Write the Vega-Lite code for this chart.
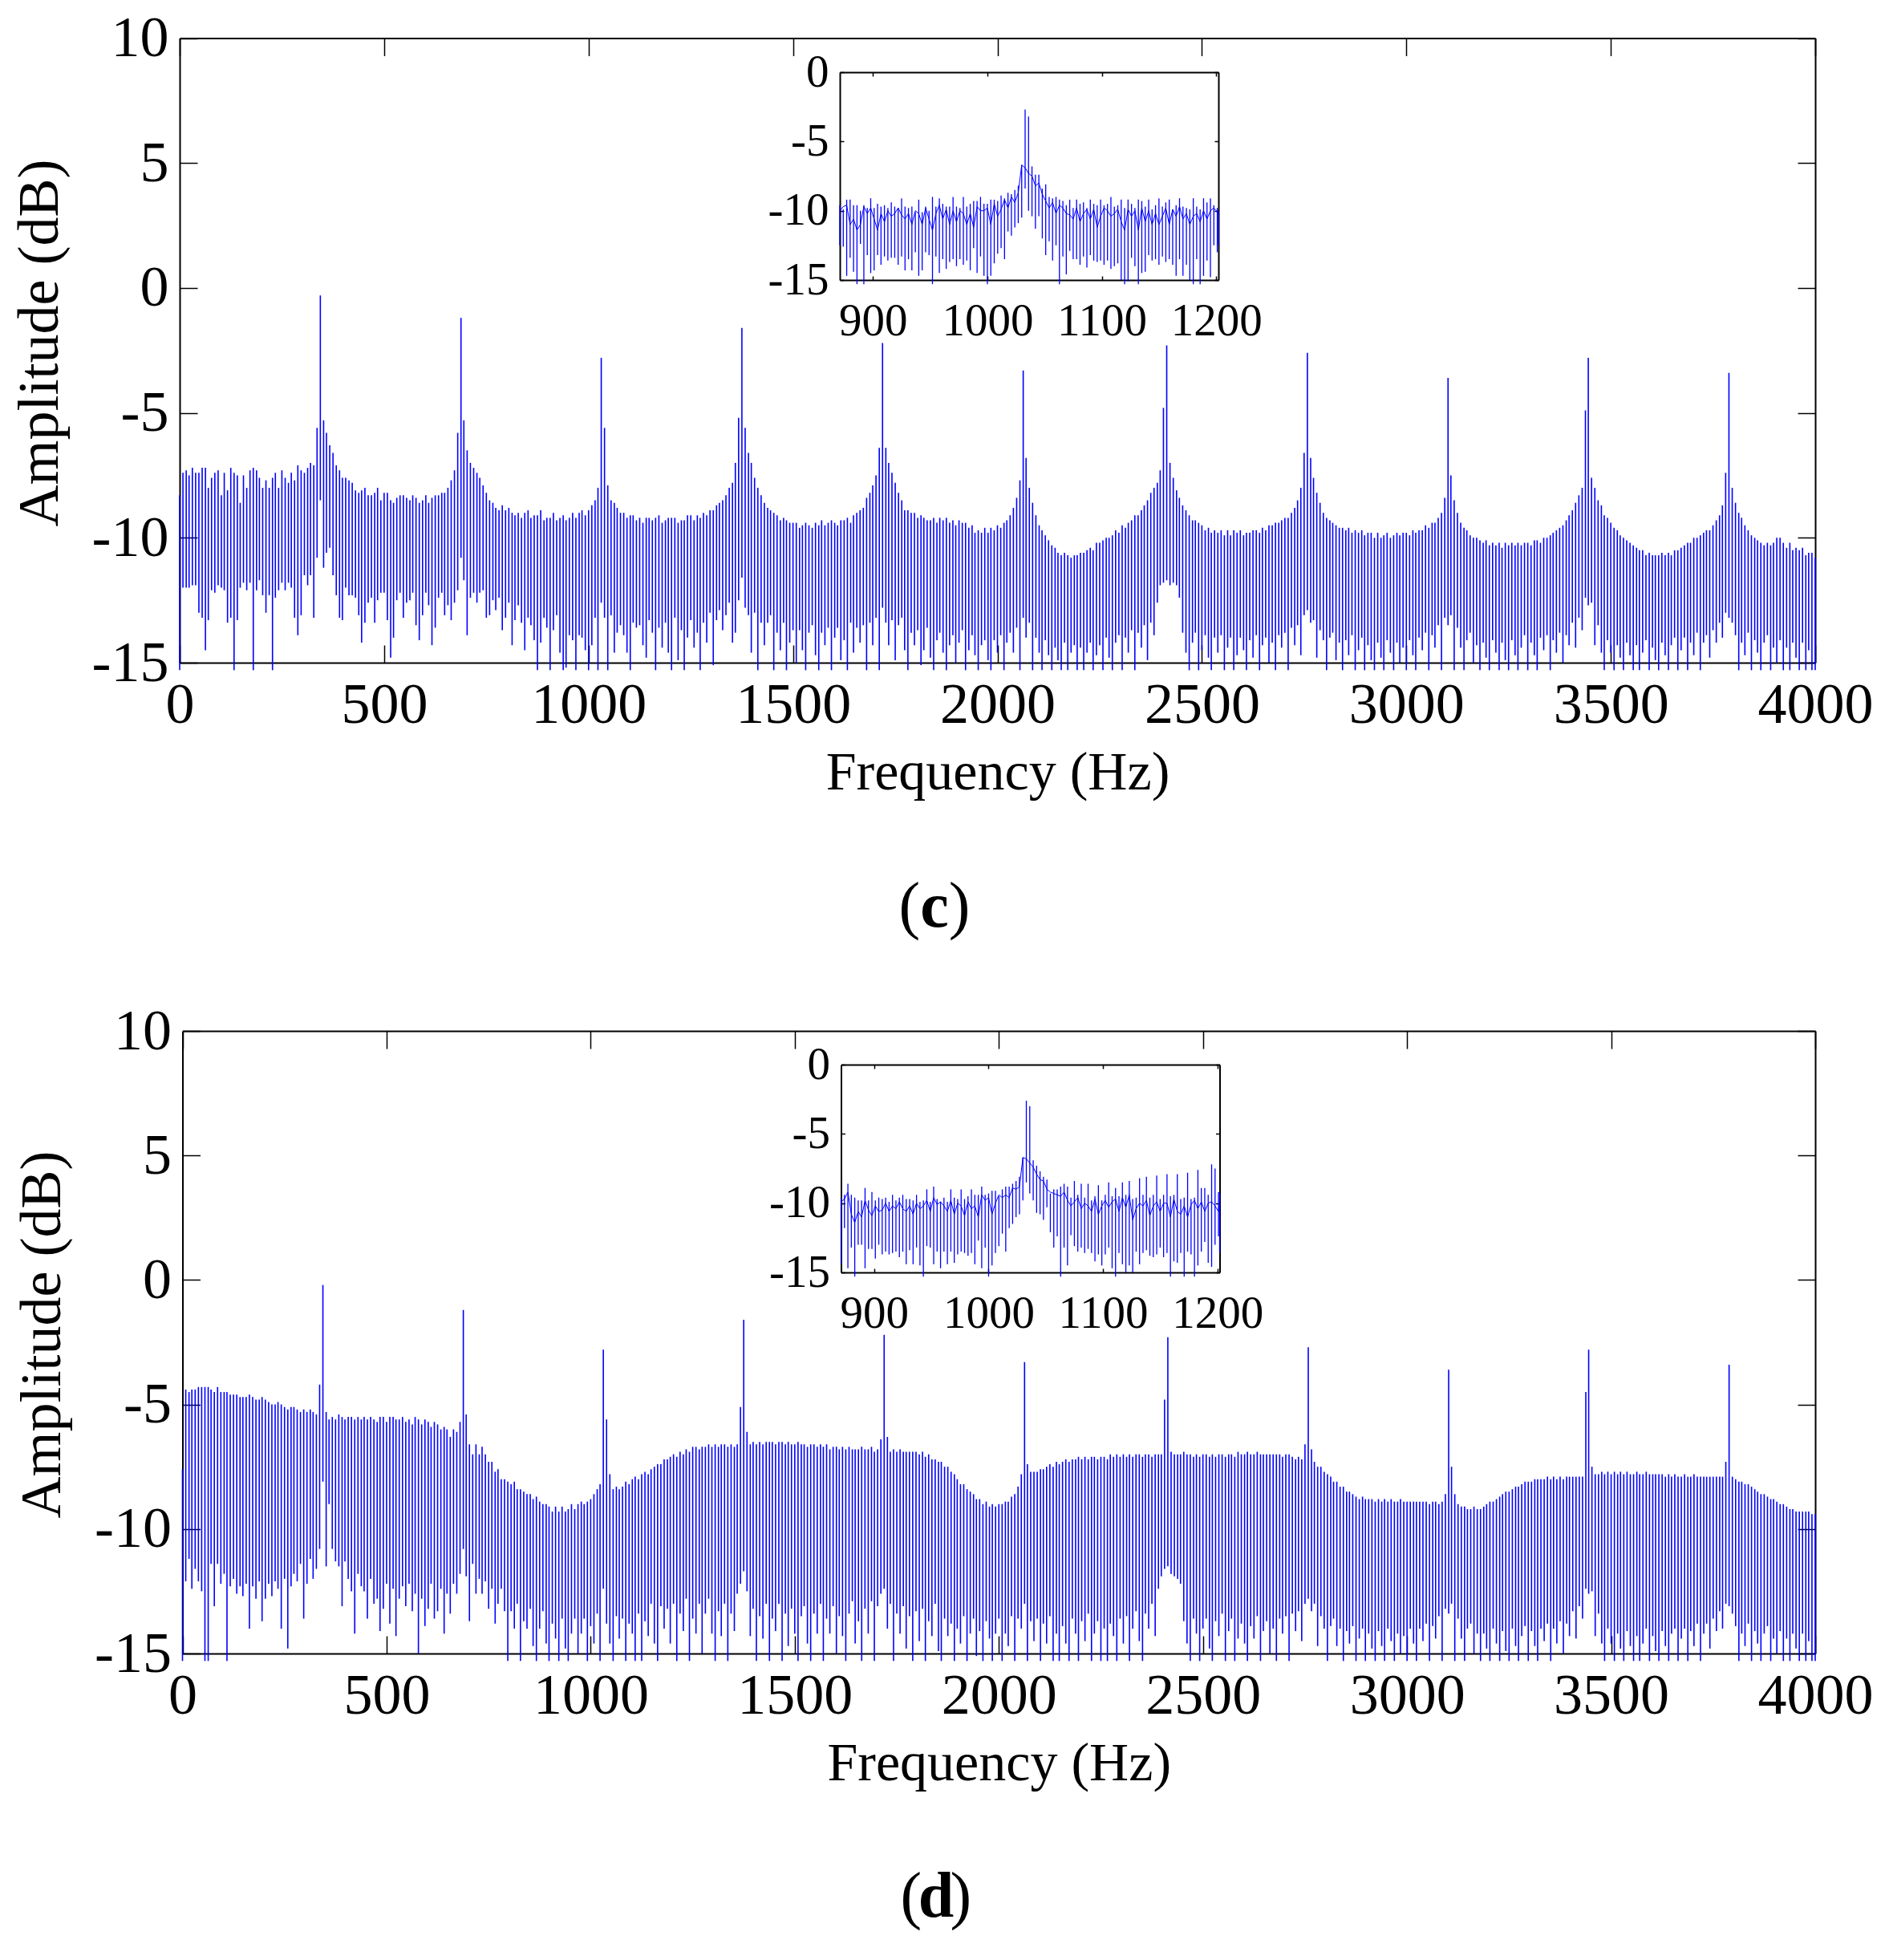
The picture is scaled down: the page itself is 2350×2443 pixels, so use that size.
{"$schema":"https://vega.github.io/schema/vega-lite/v6.json","autosize":"none","padding":0,"width":2350,"height":2443,"background":"white","config":{"view":{"stroke":null},"font":"Liberation Serif","axis":{"grid":false,"labelFont":"Liberation Serif","titleFont":"Liberation Serif","labelColor":"#000","titleColor":"#000","domainColor":"#000","tickColor":"#000","domainWidth":2,"tickWidth":1.5,"titleFontWeight":"normal","labelOverlap":false,"labelBound":false,"labelFlush":false}},"datasets":{
"c":[{"f":0,"a":-8.3,"b":-15.3},{"f":8,"a":-7.4,"b":-12},{"f":16,"a":-7.3,"b":-12},{"f":23,"a":-7.5,"b":-12},{"f":31,"a":-7.2,"b":-11.9},{"f":39,"a":-7.4,"b":-11.9},{"f":47,"a":-7.4,"b":-13},{"f":55,"a":-7.2,"b":-13.2},{"f":63,"a":-7.2,"b":-14.5},{"f":70,"a":-8,"b":-13.3},{"f":78,"a":-7.6,"b":-12.1},{"f":86,"a":-7.4,"b":-12.2},{"f":94,"a":-7.3,"b":-11.9},{"f":102,"a":-8.3,"b":-12},{"f":109,"a":-7.4,"b":-12.1},{"f":117,"a":-8.1,"b":-13.4},{"f":125,"a":-7.2,"b":-13.2},{"f":133,"a":-7.4,"b":-15.3},{"f":141,"a":-7.5,"b":-13.3},{"f":148,"a":-8.6,"b":-12},{"f":156,"a":-7.5,"b":-11.8},{"f":164,"a":-8,"b":-12.1},{"f":172,"a":-7.3,"b":-11.8},{"f":180,"a":-7.2,"b":-15.3},{"f":188,"a":-7.3,"b":-12.1},{"f":195,"a":-7.6,"b":-11.7},{"f":203,"a":-8,"b":-12.3},{"f":211,"a":-7.7,"b":-13},{"f":219,"a":-8,"b":-12.3},{"f":227,"a":-7.6,"b":-15.3},{"f":234,"a":-7.4,"b":-12.4},{"f":242,"a":-8,"b":-12.1},{"f":250,"a":-7.3,"b":-11.8},{"f":258,"a":-7.6,"b":-12.1},{"f":266,"a":-7.8,"b":-11.8},{"f":273,"a":-7.4,"b":-12},{"f":281,"a":-7.7,"b":-13.2},{"f":289,"a":-7.1,"b":-13.9},{"f":297,"a":-7.3,"b":-13.1},{"f":305,"a":-7.4,"b":-11.5},{"f":313,"a":-7.2,"b":-11.9},{"f":320,"a":-7,"b":-11.5},{"f":328,"a":-7.1,"b":-13.2},{"f":336,"a":-5.6,"b":-10.8},{"f":344,"a":-0.3,"b":-8.5},{"f":352,"a":-5.3,"b":-11.2},{"f":359,"a":-5.8,"b":-10.6},{"f":367,"a":-6.3,"b":-10.4},{"f":375,"a":-6.6,"b":-11.5},{"f":383,"a":-7.1,"b":-12.3},{"f":391,"a":-7.3,"b":-13.2},{"f":398,"a":-7.6,"b":-13.3},{"f":406,"a":-7.6,"b":-12},{"f":414,"a":-7.7,"b":-12.3},{"f":422,"a":-7.8,"b":-12.3},{"f":430,"a":-8.1,"b":-12.4},{"f":438,"a":-8.2,"b":-13.1},{"f":445,"a":-8.1,"b":-14.2},{"f":453,"a":-8,"b":-13.4},{"f":461,"a":-8.3,"b":-12.6},{"f":469,"a":-8.3,"b":-12.4},{"f":477,"a":-8.2,"b":-13.4},{"f":484,"a":-8,"b":-12.5},{"f":492,"a":-8.5,"b":-12.2},
{"f":500,"a":-8.2,"b":-12.2},{"f":508,"a":-8.2,"b":-13.3},{"f":516,"a":-8.5,"b":-14.8},{"f":523,"a":-8.6,"b":-14},{"f":531,"a":-8.4,"b":-12.5},{"f":539,"a":-8.3,"b":-12.2},{"f":547,"a":-8.3,"b":-13.2},{"f":555,"a":-8.4,"b":-12.6},{"f":563,"a":-8.5,"b":-12.5},{"f":570,"a":-8.3,"b":-12.2},{"f":578,"a":-8.4,"b":-13.5},{"f":586,"a":-8.6,"b":-14.1},{"f":594,"a":-8.5,"b":-13.1},{"f":602,"a":-8.3,"b":-12.2},{"f":609,"a":-8.6,"b":-12.7},{"f":617,"a":-8.4,"b":-14.3},{"f":625,"a":-8.3,"b":-13.6},{"f":633,"a":-8.3,"b":-12.4},{"f":641,"a":-8.2,"b":-12.2},{"f":648,"a":-8.2,"b":-13.1},{"f":656,"a":-8,"b":-12.7},{"f":664,"a":-7.7,"b":-13.3},{"f":672,"a":-7.3,"b":-12.6},{"f":680,"a":-5.8,"b":-12.1},{"f":688,"a":-1.2,"b":-10.8},{"f":695,"a":-5.3,"b":-11.7},{"f":703,"a":-6.5,"b":-13.9},{"f":711,"a":-7,"b":-12.4},{"f":719,"a":-7.2,"b":-12.2},{"f":727,"a":-7.4,"b":-12.6},{"f":734,"a":-7.6,"b":-12.2},{"f":742,"a":-7.9,"b":-12.1},{"f":750,"a":-8.2,"b":-13.2},{"f":758,"a":-8.5,"b":-13.1},{"f":766,"a":-8.6,"b":-12.5},{"f":773,"a":-8.8,"b":-12.9},{"f":781,"a":-8.9,"b":-12.4},{"f":789,"a":-8.7,"b":-13.7},{"f":797,"a":-8.9,"b":-13.2},{"f":805,"a":-8.8,"b":-12.6},{"f":813,"a":-9,"b":-14.3},{"f":820,"a":-9.1,"b":-13.3},{"f":828,"a":-9,"b":-12.7},{"f":836,"a":-9.2,"b":-13.4},{"f":844,"a":-9,"b":-14.5},{"f":852,"a":-8.9,"b":-13.2},{"f":859,"a":-9.2,"b":-13.5},{"f":867,"a":-9.1,"b":-14.1},{"f":875,"a":-9.1,"b":-15.3},{"f":883,"a":-8.9,"b":-14.2},{"f":891,"a":-9.3,"b":-13.2},{"f":898,"a":-9.2,"b":-13.6},{"f":906,"a":-9.2,"b":-15.3},{"f":914,"a":-9,"b":-13.7},{"f":922,"a":-9.3,"b":-13.1},{"f":930,"a":-9.2,"b":-14.6},{"f":938,"a":-9.1,"b":-15.3},{"f":945,"a":-9.3,"b":-15.2},{"f":953,"a":-9.2,"b":-13.9},{"f":961,"a":-9,"b":-14.1},{"f":969,"a":-9.2,"b":-15.3},{"f":977,"a":-9,"b":-13.9},{"f":984,"a":-8.9,"b":-14},
{"f":992,"a":-9.1,"b":-14.5},{"f":1000,"a":-8.9,"b":-15.3},{"f":1008,"a":-8.7,"b":-14.3},{"f":1016,"a":-8.5,"b":-13.2},{"f":1023,"a":-8,"b":-15.3},{"f":1031,"a":-2.8,"b":-12.6},{"f":1039,"a":-5.6,"b":-13.2},{"f":1047,"a":-7.9,"b":-15.3},{"f":1055,"a":-8.5,"b":-13.1},{"f":1063,"a":-8.6,"b":-14.6},{"f":1070,"a":-8.8,"b":-13.8},{"f":1078,"a":-9,"b":-13.5},{"f":1086,"a":-9,"b":-13.9},{"f":1094,"a":-9.2,"b":-14.6},{"f":1102,"a":-9.1,"b":-15.3},{"f":1109,"a":-9.1,"b":-13.4},{"f":1117,"a":-9.3,"b":-13.6},{"f":1125,"a":-9.2,"b":-13.5},{"f":1133,"a":-9.4,"b":-14.3},{"f":1141,"a":-9.2,"b":-14.8},{"f":1148,"a":-9.2,"b":-13.3},{"f":1156,"a":-9.3,"b":-13.8},{"f":1164,"a":-9.2,"b":-15.3},{"f":1172,"a":-9.1,"b":-13.6},{"f":1180,"a":-9.4,"b":-14.4},{"f":1188,"a":-9.3,"b":-13.4},{"f":1195,"a":-9.2,"b":-14.6},{"f":1203,"a":-9.2,"b":-15.3},{"f":1211,"a":-9.2,"b":-13.2},{"f":1219,"a":-9.4,"b":-14.9},{"f":1227,"a":-9.3,"b":-13.7},{"f":1234,"a":-9.3,"b":-15.3},{"f":1242,"a":-9.1,"b":-14},{"f":1250,"a":-9.1,"b":-13.3},{"f":1258,"a":-9.3,"b":-14.4},{"f":1266,"a":-9.1,"b":-13.8},{"f":1273,"a":-9.2,"b":-15.3},{"f":1281,"a":-9,"b":-13.4},{"f":1289,"a":-9.1,"b":-14.2},{"f":1297,"a":-8.9,"b":-13},{"f":1305,"a":-8.9,"b":-15.1},{"f":1313,"a":-8.7,"b":-13.3},{"f":1320,"a":-8.6,"b":-12.9},{"f":1328,"a":-8.5,"b":-13.7},{"f":1336,"a":-8.3,"b":-13.1},{"f":1344,"a":-8,"b":-12.6},{"f":1352,"a":-7.8,"b":-14.2},{"f":1359,"a":-7,"b":-13.8},{"f":1367,"a":-5.2,"b":-12.5},{"f":1375,"a":-1.6,"b":-11.6},{"f":1383,"a":-5.6,"b":-12.8},{"f":1391,"a":-6.6,"b":-13.1},{"f":1398,"a":-7,"b":-14.6},{"f":1406,"a":-7.6,"b":-13},{"f":1414,"a":-8,"b":-15.3},{"f":1422,"a":-8.3,"b":-13.4},{"f":1430,"a":-8.6,"b":-14.3},{"f":1438,"a":-8.8,"b":-13.4},{"f":1445,"a":-8.9,"b":-13.1},{"f":1453,"a":-9,"b":-15.3},{"f":1461,"a":-9.1,"b":-13.8},{"f":1469,"a":-9.3,"b":-14.5},{"f":1477,"a":-9.2,"b":-13.4},{"f":1484,"a":-9.3,"b":-15.3},
{"f":1492,"a":-9.4,"b":-14.2},{"f":1500,"a":-9.4,"b":-13.7},{"f":1508,"a":-9.4,"b":-15},{"f":1516,"a":-9.6,"b":-13.7},{"f":1523,"a":-9.5,"b":-14.5},{"f":1531,"a":-9.4,"b":-15.3},{"f":1539,"a":-9.5,"b":-13.8},{"f":1547,"a":-9.6,"b":-13.5},{"f":1555,"a":-9.4,"b":-14.7},{"f":1563,"a":-9.5,"b":-15.3},{"f":1570,"a":-9.3,"b":-13.8},{"f":1578,"a":-9.5,"b":-14.3},{"f":1586,"a":-9.4,"b":-13.6},{"f":1594,"a":-9.3,"b":-15.3},{"f":1602,"a":-9.4,"b":-14},{"f":1609,"a":-9.5,"b":-13.6},{"f":1617,"a":-9.3,"b":-14.9},{"f":1625,"a":-9.3,"b":-14.1},{"f":1633,"a":-9.2,"b":-15.3},{"f":1641,"a":-9.4,"b":-13.4},{"f":1648,"a":-9.1,"b":-14.6},{"f":1656,"a":-9,"b":-13.6},{"f":1664,"a":-8.9,"b":-14.2},{"f":1672,"a":-8.8,"b":-13.5},{"f":1680,"a":-8.4,"b":-15.3},{"f":1688,"a":-8.2,"b":-13.4},{"f":1695,"a":-7.9,"b":-14.3},{"f":1703,"a":-7.5,"b":-13.2},{"f":1711,"a":-6.4,"b":-15.3},{"f":1719,"a":-2.2,"b":-12.8},{"f":1727,"a":-6.4,"b":-13.4},{"f":1734,"a":-7,"b":-14.3},{"f":1742,"a":-7.4,"b":-13.3},{"f":1750,"a":-7.8,"b":-14.9},{"f":1758,"a":-8.2,"b":-13.5},{"f":1766,"a":-8.5,"b":-13.2},{"f":1773,"a":-8.9,"b":-14.5},{"f":1781,"a":-8.9,"b":-15.3},{"f":1789,"a":-9,"b":-13.8},{"f":1797,"a":-9,"b":-14.3},{"f":1805,"a":-9.2,"b":-13.7},{"f":1813,"a":-9.1,"b":-15.1},{"f":1820,"a":-9.2,"b":-14.5},{"f":1828,"a":-9.3,"b":-13.6},{"f":1836,"a":-9.3,"b":-14.8},{"f":1844,"a":-9.2,"b":-15.3},{"f":1852,"a":-9.4,"b":-14.1},{"f":1859,"a":-9.2,"b":-13.8},{"f":1867,"a":-9.3,"b":-14.6},{"f":1875,"a":-9.2,"b":-15.3},{"f":1883,"a":-9.4,"b":-14.3},{"f":1891,"a":-9.3,"b":-13.9},{"f":1898,"a":-9.5,"b":-15},{"f":1906,"a":-9.3,"b":-14.2},{"f":1914,"a":-9.4,"b":-13.7},{"f":1922,"a":-9.4,"b":-15.3},{"f":1930,"a":-9.6,"b":-14.5},{"f":1938,"a":-9.5,"b":-13.9},{"f":1945,"a":-9.8,"b":-14.7},{"f":1953,"a":-9.7,"b":-15.3},{"f":1961,"a":-9.8,"b":-14.3},{"f":1969,"a":-9.6,"b":-14.1},{"f":1977,"a":-9.8,"b":-14.9},{"f":1984,"a":-9.6,"b":-15.3},
{"f":1992,"a":-9.7,"b":-14.1},{"f":2000,"a":-9.5,"b":-14.6},{"f":2008,"a":-9.6,"b":-13.9},{"f":2016,"a":-9.4,"b":-15.3},{"f":2023,"a":-9.3,"b":-14.2},{"f":2031,"a":-9.1,"b":-13.8},{"f":2039,"a":-8.8,"b":-14.6},{"f":2047,"a":-8.4,"b":-13.6},{"f":2055,"a":-7.7,"b":-15.3},{"f":2063,"a":-3.3,"b":-13.2},{"f":2070,"a":-6.8,"b":-14},{"f":2078,"a":-8,"b":-13.4},{"f":2086,"a":-8.6,"b":-15.3},{"f":2094,"a":-9.1,"b":-14},{"f":2102,"a":-9.5,"b":-14.6},{"f":2109,"a":-9.7,"b":-15.3},{"f":2117,"a":-9.9,"b":-14.1},{"f":2125,"a":-10.1,"b":-14.7},{"f":2133,"a":-10.3,"b":-15.3},{"f":2141,"a":-10.4,"b":-14.4},{"f":2148,"a":-10.6,"b":-14.9},{"f":2156,"a":-10.7,"b":-15.3},{"f":2164,"a":-10.6,"b":-14.2},{"f":2172,"a":-10.7,"b":-15.3},{"f":2180,"a":-10.8,"b":-14.6},{"f":2188,"a":-10.7,"b":-14.3},{"f":2195,"a":-10.7,"b":-15.3},{"f":2203,"a":-10.6,"b":-14.4},{"f":2211,"a":-10.6,"b":-15.3},{"f":2219,"a":-10.5,"b":-14.6},{"f":2227,"a":-10.4,"b":-14.2},{"f":2234,"a":-10.5,"b":-15.3},{"f":2242,"a":-10.2,"b":-14.7},{"f":2250,"a":-10.2,"b":-14.3},{"f":2258,"a":-10.1,"b":-15.3},{"f":2266,"a":-10,"b":-14},{"f":2273,"a":-10,"b":-14.8},{"f":2281,"a":-9.9,"b":-15.3},{"f":2289,"a":-9.7,"b":-14.2},{"f":2297,"a":-9.8,"b":-13.9},{"f":2305,"a":-9.5,"b":-15.3},{"f":2313,"a":-9.6,"b":-14},{"f":2320,"a":-9.4,"b":-14.6},{"f":2328,"a":-9.3,"b":-13.7},{"f":2336,"a":-9.1,"b":-15.3},{"f":2344,"a":-9.1,"b":-13.8},{"f":2352,"a":-8.9,"b":-14.4},{"f":2359,"a":-8.7,"b":-13.5},{"f":2367,"a":-8.5,"b":-14.9},{"f":2375,"a":-8.2,"b":-13.4},{"f":2383,"a":-8,"b":-13.9},{"f":2391,"a":-7.8,"b":-12.6},{"f":2398,"a":-7.3,"b":-11.9},{"f":2406,"a":-4.8,"b":-11.8},{"f":2414,"a":-2.3,"b":-11.7},{"f":2422,"a":-7,"b":-11.9},{"f":2430,"a":-7.6,"b":-11.8},{"f":2438,"a":-8.1,"b":-11.9},{"f":2445,"a":-8.4,"b":-12.4},{"f":2453,"a":-8.7,"b":-13.8},{"f":2461,"a":-8.9,"b":-14.6},{"f":2469,"a":-9.1,"b":-15.3},{"f":2477,"a":-9.3,"b":-14.2},{"f":2484,"a":-9.3,"b":-13.8},
{"f":2492,"a":-9.4,"b":-15.3},{"f":2500,"a":-9.5,"b":-14.5},{"f":2508,"a":-9.7,"b":-13.9},{"f":2516,"a":-9.6,"b":-14.8},{"f":2523,"a":-9.8,"b":-15.3},{"f":2531,"a":-9.7,"b":-14},{"f":2539,"a":-9.8,"b":-14.6},{"f":2547,"a":-9.7,"b":-13.9},{"f":2555,"a":-9.9,"b":-15.3},{"f":2563,"a":-9.7,"b":-14.4},{"f":2570,"a":-9.9,"b":-14},{"f":2578,"a":-9.7,"b":-15.3},{"f":2586,"a":-9.8,"b":-14.7},{"f":2594,"a":-9.7,"b":-14},{"f":2602,"a":-9.9,"b":-14.5},{"f":2609,"a":-9.8,"b":-15.3},{"f":2617,"a":-9.8,"b":-14.1},{"f":2625,"a":-9.7,"b":-14.8},{"f":2633,"a":-9.7,"b":-13.9},{"f":2641,"a":-9.8,"b":-15.3},{"f":2648,"a":-9.6,"b":-14.3},{"f":2656,"a":-9.7,"b":-14},{"f":2664,"a":-9.5,"b":-15},{"f":2672,"a":-9.5,"b":-14.2},{"f":2680,"a":-9.4,"b":-15.3},{"f":2688,"a":-9.4,"b":-13.9},{"f":2695,"a":-9.3,"b":-14.4},{"f":2703,"a":-9.2,"b":-13.8},{"f":2711,"a":-9.2,"b":-15.3},{"f":2719,"a":-9,"b":-13.6},{"f":2727,"a":-8.8,"b":-14.3},{"f":2734,"a":-8.5,"b":-13.5},{"f":2742,"a":-8,"b":-14.7},{"f":2750,"a":-6.6,"b":-13.1},{"f":2758,"a":-2.6,"b":-12.9},{"f":2766,"a":-6.8,"b":-13.4},{"f":2773,"a":-7.6,"b":-13.3},{"f":2781,"a":-8.2,"b":-14.8},{"f":2789,"a":-8.6,"b":-13.7},{"f":2797,"a":-9,"b":-14.1},{"f":2805,"a":-9.2,"b":-15.3},{"f":2813,"a":-9.3,"b":-14},{"f":2820,"a":-9.4,"b":-13.8},{"f":2828,"a":-9.5,"b":-14.9},{"f":2836,"a":-9.6,"b":-14.2},{"f":2844,"a":-9.6,"b":-15.3},{"f":2852,"a":-9.7,"b":-14.1},{"f":2859,"a":-9.6,"b":-14.7},{"f":2867,"a":-9.8,"b":-13.9},{"f":2875,"a":-9.7,"b":-15.3},{"f":2883,"a":-9.8,"b":-14.5},{"f":2891,"a":-9.7,"b":-14},{"f":2898,"a":-9.9,"b":-15.3},{"f":2906,"a":-9.8,"b":-14.3},{"f":2914,"a":-9.8,"b":-14.9},{"f":2922,"a":-10,"b":-15.3},{"f":2930,"a":-9.8,"b":-14.2},{"f":2938,"a":-10,"b":-14.8},{"f":2945,"a":-9.9,"b":-15.3},{"f":2953,"a":-9.8,"b":-14.1},{"f":2961,"a":-10,"b":-14.6},{"f":2969,"a":-9.9,"b":-15.3},{"f":2977,"a":-9.8,"b":-14.2},{"f":2984,"a":-9.9,"b":-15},
{"f":2992,"a":-9.8,"b":-14.4},{"f":3000,"a":-9.8,"b":-15.3},{"f":3008,"a":-9.9,"b":-14.1},{"f":3016,"a":-9.7,"b":-14.7},{"f":3023,"a":-9.8,"b":-15.3},{"f":3031,"a":-9.7,"b":-14},{"f":3039,"a":-9.7,"b":-14.5},{"f":3047,"a":-9.5,"b":-13.8},{"f":3055,"a":-9.6,"b":-15.3},{"f":3063,"a":-9.4,"b":-13.9},{"f":3070,"a":-9.4,"b":-14.4},{"f":3078,"a":-9.2,"b":-13.5},{"f":3086,"a":-9,"b":-15.3},{"f":3094,"a":-8.4,"b":-13.2},{"f":3102,"a":-3.6,"b":-13.5},{"f":3109,"a":-7.5,"b":-13.1},{"f":3117,"a":-8.5,"b":-15.3},{"f":3125,"a":-9,"b":-13.6},{"f":3133,"a":-9.4,"b":-14.4},{"f":3141,"a":-9.6,"b":-15.3},{"f":3148,"a":-9.7,"b":-14.1},{"f":3156,"a":-9.9,"b":-13.8},{"f":3164,"a":-10,"b":-15},{"f":3172,"a":-10,"b":-14.3},{"f":3180,"a":-10.1,"b":-15.3},{"f":3188,"a":-10.2,"b":-14.2},{"f":3195,"a":-10.1,"b":-14.8},{"f":3203,"a":-10.3,"b":-15.3},{"f":3211,"a":-10.2,"b":-14.1},{"f":3219,"a":-10.3,"b":-14.6},{"f":3227,"a":-10.2,"b":-15.3},{"f":3234,"a":-10.4,"b":-14.2},{"f":3242,"a":-10.2,"b":-14.9},{"f":3250,"a":-10.3,"b":-15.3},{"f":3258,"a":-10.2,"b":-14.1},{"f":3266,"a":-10.3,"b":-14.7},{"f":3273,"a":-10.2,"b":-15.3},{"f":3281,"a":-10.3,"b":-14.4},{"f":3289,"a":-10.2,"b":-13.9},{"f":3297,"a":-10.2,"b":-15.3},{"f":3305,"a":-10.3,"b":-14.2},{"f":3313,"a":-10.1,"b":-14.7},{"f":3320,"a":-10.1,"b":-15.3},{"f":3328,"a":-10.2,"b":-14},{"f":3336,"a":-10,"b":-14.5},{"f":3344,"a":-10,"b":-13.9},{"f":3352,"a":-9.9,"b":-15.3},{"f":3359,"a":-9.8,"b":-14.1},{"f":3367,"a":-9.7,"b":-14.6},{"f":3375,"a":-9.6,"b":-13.8},{"f":3383,"a":-9.5,"b":-15},{"f":3391,"a":-9.3,"b":-13.9},{"f":3398,"a":-9.1,"b":-14.3},{"f":3406,"a":-8.9,"b":-13.4},{"f":3414,"a":-8.6,"b":-14.4},{"f":3422,"a":-8.3,"b":-13.2},{"f":3430,"a":-8,"b":-13.7},{"f":3438,"a":-4.9,"b":-12.4},{"f":3445,"a":-2.8,"b":-12.7},{"f":3453,"a":-7.6,"b":-12.6},{"f":3461,"a":-8,"b":-14.3},{"f":3469,"a":-8.5,"b":-13.5},{"f":3477,"a":-8.7,"b":-14.6},{"f":3484,"a":-9.1,"b":-15.3},
{"f":3492,"a":-9.2,"b":-14.1},{"f":3500,"a":-9.4,"b":-14.6},{"f":3508,"a":-9.6,"b":-15.3},{"f":3516,"a":-9.7,"b":-14.3},{"f":3523,"a":-9.9,"b":-14.8},{"f":3531,"a":-10,"b":-15.3},{"f":3539,"a":-10.1,"b":-14.2},{"f":3547,"a":-10.2,"b":-14.7},{"f":3555,"a":-10.3,"b":-15.3},{"f":3563,"a":-10.4,"b":-14.3},{"f":3570,"a":-10.5,"b":-15.3},{"f":3578,"a":-10.5,"b":-14.6},{"f":3586,"a":-10.7,"b":-14.1},{"f":3594,"a":-10.6,"b":-15.3},{"f":3602,"a":-10.7,"b":-14.4},{"f":3609,"a":-10.7,"b":-14.9},{"f":3617,"a":-10.7,"b":-15.3},{"f":3625,"a":-10.6,"b":-14.2},{"f":3633,"a":-10.7,"b":-14.7},{"f":3641,"a":-10.6,"b":-15.3},{"f":3648,"a":-10.7,"b":-14.3},{"f":3656,"a":-10.5,"b":-14},{"f":3664,"a":-10.5,"b":-15.3},{"f":3672,"a":-10.4,"b":-14.5},{"f":3680,"a":-10.3,"b":-14},{"f":3688,"a":-10.2,"b":-15.3},{"f":3695,"a":-10.2,"b":-14.2},{"f":3703,"a":-10,"b":-14.7},{"f":3711,"a":-10,"b":-13.8},{"f":3719,"a":-9.9,"b":-15.3},{"f":3727,"a":-9.8,"b":-14.2},{"f":3734,"a":-9.7,"b":-13.9},{"f":3742,"a":-9.7,"b":-14.8},{"f":3750,"a":-9.5,"b":-13.7},{"f":3758,"a":-9.3,"b":-14.2},{"f":3766,"a":-9.1,"b":-13.4},{"f":3773,"a":-8.7,"b":-14},{"f":3781,"a":-7.4,"b":-13},{"f":3789,"a":-3.4,"b":-13.2},{"f":3797,"a":-8,"b":-13.4},{"f":3805,"a":-8.6,"b":-13.9},{"f":3813,"a":-9,"b":-15.3},{"f":3820,"a":-9.2,"b":-14.2},{"f":3828,"a":-9.5,"b":-14.7},{"f":3836,"a":-9.7,"b":-13.8},{"f":3844,"a":-9.9,"b":-15.3},{"f":3852,"a":-10,"b":-14.1},{"f":3859,"a":-10.1,"b":-14.6},{"f":3867,"a":-10.2,"b":-15.3},{"f":3875,"a":-10.3,"b":-14.2},{"f":3883,"a":-10.2,"b":-13.9},{"f":3891,"a":-10.3,"b":-15.3},{"f":3898,"a":-10.2,"b":-14.4},{"f":3906,"a":-10,"b":-15},{"f":3914,"a":-10,"b":-14.1},{"f":3922,"a":-10.2,"b":-15.3},{"f":3930,"a":-10.4,"b":-14.4},{"f":3938,"a":-10.2,"b":-15.3},{"f":3945,"a":-10.5,"b":-14.2},{"f":3953,"a":-10.4,"b":-14.8},{"f":3961,"a":-10.5,"b":-15.3},{"f":3969,"a":-10.4,"b":-14.2},{"f":3977,"a":-10.7,"b":-15.3},{"f":3984,"a":-10.6,"b":-14.5},{"f":3992,"a":-10.6,"b":-15.3},{"f":4000,"a":-10.8,"b":-15.3}],
"d":[{"f":0,"a":-7.6,"b":-15.3},{"f":8,"a":-4.4,"b":-12.1},{"f":16,"a":-4.5,"b":-11.2},{"f":23,"a":-4.4,"b":-12.4},{"f":31,"a":-4.4,"b":-11.6},{"f":39,"a":-4.3,"b":-12.1},{"f":47,"a":-4.3,"b":-12.5},{"f":55,"a":-4.3,"b":-15.3},{"f":63,"a":-4.3,"b":-15.3},{"f":70,"a":-4.4,"b":-11.4},{"f":78,"a":-4.5,"b":-13.1},{"f":86,"a":-4.3,"b":-11.4},{"f":94,"a":-4.5,"b":-12.2},{"f":102,"a":-4.5,"b":-11.8},{"f":109,"a":-4.5,"b":-15.3},{"f":117,"a":-4.6,"b":-12.3},{"f":125,"a":-4.6,"b":-12},{"f":133,"a":-4.6,"b":-12.6},{"f":141,"a":-4.7,"b":-12.3},{"f":148,"a":-4.7,"b":-12.7},{"f":156,"a":-4.7,"b":-12.2},{"f":164,"a":-4.6,"b":-14},{"f":172,"a":-4.7,"b":-12.3},{"f":180,"a":-4.8,"b":-12.8},{"f":188,"a":-4.8,"b":-12.1},{"f":195,"a":-4.7,"b":-13.7},{"f":203,"a":-4.8,"b":-12.8},{"f":211,"a":-4.9,"b":-12.2},{"f":219,"a":-5,"b":-12.7},{"f":227,"a":-5,"b":-12.1},{"f":234,"a":-4.9,"b":-12.4},{"f":242,"a":-5,"b":-14},{"f":250,"a":-5.1,"b":-12},{"f":258,"a":-5.2,"b":-14.8},{"f":266,"a":-5.1,"b":-12.3},{"f":273,"a":-5.1,"b":-11.8},{"f":281,"a":-5.2,"b":-12.1},{"f":289,"a":-5.3,"b":-11.4},{"f":297,"a":-5.2,"b":-13.6},{"f":305,"a":-5.3,"b":-12.2},{"f":313,"a":-5.2,"b":-11.2},{"f":320,"a":-5.3,"b":-12},{"f":328,"a":-5.4,"b":-11.6},{"f":336,"a":-4.2,"b":-10.8},{"f":344,"a":-0.2,"b":-8.1},{"f":352,"a":-5.3,"b":-11.5},{"f":359,"a":-5.6,"b":-9},{"f":367,"a":-5.5,"b":-10.8},{"f":375,"a":-5.6,"b":-11.3},{"f":383,"a":-5.4,"b":-11.5},{"f":391,"a":-5.5,"b":-13.1},{"f":398,"a":-5.6,"b":-11.3},{"f":406,"a":-5.5,"b":-12},{"f":414,"a":-5.5,"b":-12.5},{"f":422,"a":-5.6,"b":-14.2},{"f":430,"a":-5.5,"b":-11.8},{"f":438,"a":-5.6,"b":-12.3},{"f":445,"a":-5.5,"b":-12.5},{"f":453,"a":-5.6,"b":-13.6},{"f":461,"a":-5.5,"b":-12},{"f":469,"a":-5.6,"b":-13},{"f":477,"a":-5.7,"b":-12.8},{"f":484,"a":-5.5,"b":-14.1},{"f":492,"a":-5.5,"b":-13.2},
{"f":500,"a":-5.7,"b":-12.2},{"f":508,"a":-5.5,"b":-13.8},{"f":516,"a":-5.5,"b":-12.4},{"f":523,"a":-5.6,"b":-14.3},{"f":531,"a":-5.6,"b":-12.8},{"f":539,"a":-5.5,"b":-12.3},{"f":547,"a":-5.7,"b":-13.1},{"f":555,"a":-5.6,"b":-12.2},{"f":563,"a":-5.8,"b":-13.3},{"f":570,"a":-5.5,"b":-12.6},{"f":578,"a":-5.6,"b":-15},{"f":586,"a":-5.8,"b":-12.8},{"f":594,"a":-5.6,"b":-13.9},{"f":602,"a":-5.7,"b":-13.2},{"f":609,"a":-5.9,"b":-12.2},{"f":617,"a":-5.7,"b":-13.6},{"f":625,"a":-5.8,"b":-13.3},{"f":633,"a":-6,"b":-12.4},{"f":641,"a":-5.9,"b":-14.2},{"f":648,"a":-6,"b":-12.6},{"f":656,"a":-6.3,"b":-13.4},{"f":664,"a":-6,"b":-12.2},{"f":672,"a":-6.1,"b":-12.6},{"f":680,"a":-5.7,"b":-11.8},{"f":688,"a":-1.2,"b":-10.8},{"f":695,"a":-5.4,"b":-11.9},{"f":703,"a":-6.6,"b":-13.7},{"f":711,"a":-7,"b":-11.4},{"f":719,"a":-6.6,"b":-12.6},{"f":727,"a":-7,"b":-12},{"f":734,"a":-6.7,"b":-12.6},{"f":742,"a":-7,"b":-12.1},{"f":750,"a":-7.3,"b":-13.2},{"f":758,"a":-7.3,"b":-12.4},{"f":766,"a":-7.7,"b":-13.8},{"f":773,"a":-7.6,"b":-13},{"f":781,"a":-8,"b":-12.4},{"f":789,"a":-8,"b":-13.3},{"f":797,"a":-8.1,"b":-15.3},{"f":805,"a":-8.2,"b":-13.3},{"f":813,"a":-8.1,"b":-14},{"f":820,"a":-8.4,"b":-13},{"f":828,"a":-8.4,"b":-15.3},{"f":836,"a":-8.5,"b":-13.7},{"f":844,"a":-8.6,"b":-14},{"f":852,"a":-8.6,"b":-13.2},{"f":859,"a":-8.8,"b":-14.7},{"f":867,"a":-8.7,"b":-15.3},{"f":875,"a":-8.9,"b":-14},{"f":883,"a":-9,"b":-13.3},{"f":891,"a":-9,"b":-14.6},{"f":898,"a":-9.1,"b":-15.3},{"f":906,"a":-9.3,"b":-13.8},{"f":914,"a":-9.1,"b":-14.4},{"f":922,"a":-9.3,"b":-15.3},{"f":930,"a":-9.1,"b":-13.6},{"f":938,"a":-9.3,"b":-14.8},{"f":945,"a":-9.2,"b":-15.3},{"f":953,"a":-9,"b":-14.2},{"f":961,"a":-9.2,"b":-13.6},{"f":969,"a":-9,"b":-15},{"f":977,"a":-8.9,"b":-14.2},{"f":984,"a":-9,"b":-13.6},
{"f":992,"a":-8.9,"b":-15.3},{"f":1000,"a":-8.8,"b":-13.9},{"f":1008,"a":-8.6,"b":-14.6},{"f":1016,"a":-8.4,"b":-13.4},{"f":1023,"a":-8.2,"b":-15.3},{"f":1031,"a":-2.8,"b":-12.4},{"f":1039,"a":-5.6,"b":-13.8},{"f":1047,"a":-7.8,"b":-14.6},{"f":1055,"a":-8.4,"b":-15.3},{"f":1063,"a":-8.3,"b":-13.5},{"f":1070,"a":-8.4,"b":-14.4},{"f":1078,"a":-8.3,"b":-13.6},{"f":1086,"a":-8.1,"b":-15.3},{"f":1094,"a":-8.2,"b":-13.8},{"f":1102,"a":-8,"b":-14.2},{"f":1109,"a":-7.9,"b":-15.3},{"f":1117,"a":-8,"b":-13.4},{"f":1125,"a":-7.8,"b":-15.3},{"f":1133,"a":-7.7,"b":-13.7},{"f":1141,"a":-7.8,"b":-14.3},{"f":1148,"a":-7.6,"b":-13},{"f":1156,"a":-7.5,"b":-14.6},{"f":1164,"a":-7.4,"b":-15.3},{"f":1172,"a":-7.4,"b":-13.1},{"f":1180,"a":-7.2,"b":-14},{"f":1188,"a":-7.2,"b":-13.2},{"f":1195,"a":-7.1,"b":-14.6},{"f":1203,"a":-7,"b":-13},{"f":1211,"a":-7.1,"b":-15.3},{"f":1219,"a":-6.9,"b":-13.4},{"f":1227,"a":-7,"b":-14.1},{"f":1234,"a":-6.8,"b":-12.8},{"f":1242,"a":-6.9,"b":-15.3},{"f":1250,"a":-6.7,"b":-13.6},{"f":1258,"a":-6.7,"b":-14.2},{"f":1266,"a":-6.8,"b":-13},{"f":1273,"a":-6.7,"b":-15},{"f":1281,"a":-6.7,"b":-13.4},{"f":1289,"a":-6.6,"b":-12.8},{"f":1297,"a":-6.7,"b":-14.2},{"f":1305,"a":-6.6,"b":-15.3},{"f":1313,"a":-6.7,"b":-13.3},{"f":1320,"a":-6.6,"b":-14.3},{"f":1328,"a":-6.6,"b":-13},{"f":1336,"a":-6.7,"b":-15.3},{"f":1344,"a":-6.6,"b":-13.4},{"f":1352,"a":-6.7,"b":-14.1},{"f":1359,"a":-6.6,"b":-12.6},{"f":1367,"a":-5.1,"b":-12.2},{"f":1375,"a":-1.6,"b":-11.7},{"f":1383,"a":-6.1,"b":-12.5},{"f":1391,"a":-6.6,"b":-14.3},{"f":1398,"a":-6.5,"b":-13.2},{"f":1406,"a":-6.6,"b":-15.3},{"f":1414,"a":-6.5,"b":-13.5},{"f":1422,"a":-6.6,"b":-14.4},{"f":1430,"a":-6.5,"b":-13},{"f":1438,"a":-6.5,"b":-15.3},{"f":1445,"a":-6.5,"b":-13.6},{"f":1453,"a":-6.6,"b":-14.1},{"f":1461,"a":-6.5,"b":-13},{"f":1469,"a":-6.5,"b":-15.3},{"f":1477,"a":-6.6,"b":-13.4},{"f":1484,"a":-6.5,"b":-14.7},
{"f":1492,"a":-6.6,"b":-13.2},{"f":1500,"a":-6.6,"b":-14.2},{"f":1508,"a":-6.5,"b":-15.3},{"f":1516,"a":-6.6,"b":-13.5},{"f":1523,"a":-6.6,"b":-13.1},{"f":1531,"a":-6.7,"b":-14.6},{"f":1539,"a":-6.6,"b":-15.3},{"f":1547,"a":-6.6,"b":-13.4},{"f":1555,"a":-6.7,"b":-14.2},{"f":1563,"a":-6.6,"b":-13},{"f":1570,"a":-6.7,"b":-15.3},{"f":1578,"a":-6.6,"b":-13.6},{"f":1586,"a":-6.8,"b":-14.2},{"f":1594,"a":-6.7,"b":-13.1},{"f":1602,"a":-6.7,"b":-15},{"f":1609,"a":-6.8,"b":-13.5},{"f":1617,"a":-6.7,"b":-14.3},{"f":1625,"a":-6.8,"b":-15.3},{"f":1633,"a":-6.7,"b":-13.4},{"f":1641,"a":-6.8,"b":-12.9},{"f":1648,"a":-6.8,"b":-14.6},{"f":1656,"a":-6.8,"b":-13.7},{"f":1664,"a":-6.7,"b":-15.3},{"f":1672,"a":-6.8,"b":-13.2},{"f":1680,"a":-6.8,"b":-14.2},{"f":1688,"a":-6.7,"b":-12.9},{"f":1695,"a":-6.9,"b":-15.3},{"f":1703,"a":-6.8,"b":-13.1},{"f":1711,"a":-6.4,"b":-12.6},{"f":1719,"a":-2.2,"b":-12.4},{"f":1727,"a":-6.3,"b":-14},{"f":1734,"a":-6.9,"b":-13},{"f":1742,"a":-6.8,"b":-15.3},{"f":1750,"a":-6.9,"b":-13.4},{"f":1758,"a":-6.8,"b":-14.2},{"f":1766,"a":-6.9,"b":-13.1},{"f":1773,"a":-6.9,"b":-14.8},{"f":1781,"a":-6.9,"b":-13.5},{"f":1789,"a":-6.9,"b":-15.3},{"f":1797,"a":-6.9,"b":-13.3},{"f":1805,"a":-7,"b":-14.5},{"f":1813,"a":-6.9,"b":-13.2},{"f":1820,"a":-7.1,"b":-15.3},{"f":1828,"a":-7,"b":-13.7},{"f":1836,"a":-7.2,"b":-14.3},{"f":1844,"a":-7.2,"b":-13},{"f":1852,"a":-7.3,"b":-14.9},{"f":1859,"a":-7.3,"b":-15.3},{"f":1867,"a":-7.5,"b":-13.6},{"f":1875,"a":-7.5,"b":-14.3},{"f":1883,"a":-7.7,"b":-13.8},{"f":1891,"a":-7.8,"b":-15.3},{"f":1898,"a":-8,"b":-14},{"f":1906,"a":-8.2,"b":-14.6},{"f":1914,"a":-8.2,"b":-13.5},{"f":1922,"a":-8.4,"b":-15.3},{"f":1930,"a":-8.5,"b":-14.2},{"f":1938,"a":-8.6,"b":-13.6},{"f":1945,"a":-8.8,"b":-15.1},{"f":1953,"a":-8.8,"b":-14.1},{"f":1961,"a":-9,"b":-15.3},{"f":1969,"a":-8.9,"b":-13.7},{"f":1977,"a":-9.1,"b":-14.4},{"f":1984,"a":-9,"b":-15.3},
{"f":1992,"a":-9.1,"b":-14.2},{"f":2000,"a":-9,"b":-13.6},{"f":2008,"a":-9,"b":-15.3},{"f":2016,"a":-8.9,"b":-14.2},{"f":2023,"a":-8.9,"b":-14.7},{"f":2031,"a":-8.7,"b":-13.5},{"f":2039,"a":-8.6,"b":-15.3},{"f":2047,"a":-8.3,"b":-13.6},{"f":2055,"a":-7.8,"b":-14},{"f":2063,"a":-3.3,"b":-13},{"f":2070,"a":-7.4,"b":-15.3},{"f":2078,"a":-7.7,"b":-13.7},{"f":2086,"a":-7.7,"b":-14.5},{"f":2094,"a":-7.7,"b":-13.6},{"f":2102,"a":-7.6,"b":-15.3},{"f":2109,"a":-7.6,"b":-13.8},{"f":2117,"a":-7.5,"b":-14.6},{"f":2125,"a":-7.4,"b":-13.5},{"f":2133,"a":-7.5,"b":-15.3},{"f":2141,"a":-7.3,"b":-14.2},{"f":2148,"a":-7.4,"b":-15.3},{"f":2156,"a":-7.3,"b":-13.9},{"f":2164,"a":-7.2,"b":-14.6},{"f":2172,"a":-7.3,"b":-15.3},{"f":2180,"a":-7.2,"b":-13.6},{"f":2188,"a":-7.2,"b":-14.2},{"f":2195,"a":-7.1,"b":-15.3},{"f":2203,"a":-7.2,"b":-13.7},{"f":2211,"a":-7.1,"b":-14.5},{"f":2219,"a":-7.2,"b":-13.4},{"f":2227,"a":-7.1,"b":-15.3},{"f":2234,"a":-7.1,"b":-14.2},{"f":2242,"a":-7.2,"b":-13.7},{"f":2250,"a":-7.1,"b":-15.3},{"f":2258,"a":-7.1,"b":-14},{"f":2266,"a":-7.2,"b":-15.3},{"f":2273,"a":-7,"b":-13.8},{"f":2281,"a":-7.1,"b":-14.3},{"f":2289,"a":-7,"b":-15.3},{"f":2297,"a":-7.1,"b":-13.6},{"f":2305,"a":-7,"b":-14.6},{"f":2313,"a":-7.1,"b":-13.5},{"f":2320,"a":-7,"b":-15.3},{"f":2328,"a":-7.1,"b":-14},{"f":2336,"a":-7,"b":-13.3},{"f":2344,"a":-7,"b":-14.5},{"f":2352,"a":-7.1,"b":-15.3},{"f":2359,"a":-7,"b":-13.4},{"f":2367,"a":-7,"b":-14},{"f":2375,"a":-7.1,"b":-13},{"f":2383,"a":-7,"b":-14.3},{"f":2391,"a":-7,"b":-12.4},{"f":2398,"a":-7,"b":-11.9},{"f":2406,"a":-4.8,"b":-11.6},{"f":2414,"a":-2.3,"b":-11.5},{"f":2422,"a":-6.9,"b":-11.8},{"f":2430,"a":-7,"b":-11.9},{"f":2438,"a":-7,"b":-12},{"f":2445,"a":-7,"b":-12.2},{"f":2453,"a":-6.9,"b":-13.7},{"f":2461,"a":-7,"b":-14.6},{"f":2469,"a":-7,"b":-15.3},{"f":2477,"a":-7.1,"b":-13.6},{"f":2484,"a":-7,"b":-14.2},
{"f":2492,"a":-7.1,"b":-15.3},{"f":2500,"a":-7,"b":-14},{"f":2508,"a":-7,"b":-13.6},{"f":2516,"a":-7.1,"b":-14.8},{"f":2523,"a":-7,"b":-15.3},{"f":2531,"a":-7.1,"b":-13.7},{"f":2539,"a":-7,"b":-14.3},{"f":2547,"a":-7,"b":-13.4},{"f":2555,"a":-7.1,"b":-15.3},{"f":2563,"a":-7,"b":-14.1},{"f":2570,"a":-7,"b":-13.6},{"f":2578,"a":-7.1,"b":-15.3},{"f":2586,"a":-6.9,"b":-14.4},{"f":2594,"a":-7,"b":-13.8},{"f":2602,"a":-7,"b":-14.6},{"f":2609,"a":-6.9,"b":-15.3},{"f":2617,"a":-7,"b":-13.9},{"f":2625,"a":-7,"b":-14.4},{"f":2633,"a":-6.9,"b":-13.5},{"f":2641,"a":-7,"b":-15.3},{"f":2648,"a":-7,"b":-14.1},{"f":2656,"a":-7,"b":-13.7},{"f":2664,"a":-7,"b":-15},{"f":2672,"a":-7,"b":-14},{"f":2680,"a":-7,"b":-15.3},{"f":2688,"a":-7,"b":-13.6},{"f":2695,"a":-7.1,"b":-14.2},{"f":2703,"a":-7,"b":-13.5},{"f":2711,"a":-7,"b":-15.3},{"f":2719,"a":-7.1,"b":-13.4},{"f":2727,"a":-7.2,"b":-14.1},{"f":2734,"a":-7.1,"b":-13.3},{"f":2742,"a":-7.2,"b":-14.5},{"f":2750,"a":-6.6,"b":-13},{"f":2758,"a":-2.7,"b":-12.8},{"f":2766,"a":-6.8,"b":-13.3},{"f":2773,"a":-7.3,"b":-13},{"f":2781,"a":-7.5,"b":-14.7},{"f":2789,"a":-7.5,"b":-13.5},{"f":2797,"a":-7.7,"b":-14},{"f":2805,"a":-7.8,"b":-15.3},{"f":2813,"a":-7.9,"b":-13.9},{"f":2820,"a":-8.1,"b":-13.6},{"f":2828,"a":-8.1,"b":-14.7},{"f":2836,"a":-8.3,"b":-14},{"f":2844,"a":-8.3,"b":-15.3},{"f":2852,"a":-8.5,"b":-14.1},{"f":2859,"a":-8.5,"b":-14.6},{"f":2867,"a":-8.6,"b":-13.9},{"f":2875,"a":-8.7,"b":-15.3},{"f":2883,"a":-8.8,"b":-14.4},{"f":2891,"a":-8.7,"b":-14},{"f":2898,"a":-8.8,"b":-15.3},{"f":2906,"a":-8.8,"b":-14.2},{"f":2914,"a":-8.8,"b":-14.8},{"f":2922,"a":-8.9,"b":-15.3},{"f":2930,"a":-8.8,"b":-14.1},{"f":2938,"a":-8.9,"b":-14.7},{"f":2945,"a":-8.8,"b":-15.3},{"f":2953,"a":-8.9,"b":-14},{"f":2961,"a":-8.8,"b":-14.5},{"f":2969,"a":-8.9,"b":-15.3},{"f":2977,"a":-8.9,"b":-14.2},{"f":2984,"a":-8.8,"b":-15},
{"f":2992,"a":-8.9,"b":-14.3},{"f":3000,"a":-8.9,"b":-15.3},{"f":3008,"a":-8.9,"b":-14},{"f":3016,"a":-8.9,"b":-14.6},{"f":3023,"a":-8.9,"b":-15.3},{"f":3031,"a":-8.9,"b":-14},{"f":3039,"a":-8.9,"b":-14.5},{"f":3047,"a":-8.9,"b":-13.8},{"f":3055,"a":-9,"b":-15.3},{"f":3063,"a":-8.9,"b":-13.9},{"f":3070,"a":-8.9,"b":-14.4},{"f":3078,"a":-9,"b":-13.5},{"f":3086,"a":-8.9,"b":-15.3},{"f":3094,"a":-8.6,"b":-13.2},{"f":3102,"a":-3.6,"b":-13.4},{"f":3109,"a":-7.5,"b":-13},{"f":3117,"a":-8.6,"b":-15.3},{"f":3125,"a":-9,"b":-13.6},{"f":3133,"a":-9.1,"b":-14.4},{"f":3141,"a":-9.1,"b":-15.3},{"f":3148,"a":-9.2,"b":-14},{"f":3156,"a":-9.2,"b":-13.8},{"f":3164,"a":-9.1,"b":-15},{"f":3172,"a":-9.2,"b":-14.2},{"f":3180,"a":-9.2,"b":-15.3},{"f":3188,"a":-9.1,"b":-14.2},{"f":3195,"a":-9,"b":-14.8},{"f":3203,"a":-8.9,"b":-15.3},{"f":3211,"a":-8.9,"b":-14},{"f":3219,"a":-8.8,"b":-14.6},{"f":3227,"a":-8.7,"b":-15.3},{"f":3234,"a":-8.6,"b":-14.1},{"f":3242,"a":-8.5,"b":-14.9},{"f":3250,"a":-8.5,"b":-15.3},{"f":3258,"a":-8.4,"b":-14},{"f":3266,"a":-8.3,"b":-14.7},{"f":3273,"a":-8.3,"b":-15.3},{"f":3281,"a":-8.2,"b":-14.3},{"f":3289,"a":-8.1,"b":-13.9},{"f":3297,"a":-8.1,"b":-15.3},{"f":3305,"a":-8.1,"b":-14.1},{"f":3313,"a":-8,"b":-14.7},{"f":3320,"a":-8,"b":-15.3},{"f":3328,"a":-8,"b":-14},{"f":3336,"a":-8,"b":-14.5},{"f":3344,"a":-7.9,"b":-13.8},{"f":3352,"a":-8,"b":-15.3},{"f":3359,"a":-7.9,"b":-14},{"f":3367,"a":-8,"b":-14.6},{"f":3375,"a":-7.9,"b":-13.7},{"f":3383,"a":-8,"b":-15},{"f":3391,"a":-7.9,"b":-13.8},{"f":3398,"a":-7.9,"b":-14.3},{"f":3406,"a":-7.9,"b":-13.3},{"f":3414,"a":-7.9,"b":-14.4},{"f":3422,"a":-7.9,"b":-13.1},{"f":3430,"a":-7.9,"b":-13.6},{"f":3438,"a":-4.5,"b":-12.4},{"f":3445,"a":-2.8,"b":-12.6},{"f":3453,"a":-7.5,"b":-12.5},{"f":3461,"a":-7.8,"b":-14.3},{"f":3469,"a":-7.8,"b":-13.4},{"f":3477,"a":-7.7,"b":-14.6},{"f":3484,"a":-7.8,"b":-15.3},
{"f":3492,"a":-7.7,"b":-14},{"f":3500,"a":-7.8,"b":-14.6},{"f":3508,"a":-7.7,"b":-15.3},{"f":3516,"a":-7.8,"b":-14.2},{"f":3523,"a":-7.7,"b":-14.8},{"f":3531,"a":-7.8,"b":-15.3},{"f":3539,"a":-7.7,"b":-14.1},{"f":3547,"a":-7.8,"b":-14.7},{"f":3555,"a":-7.8,"b":-15.3},{"f":3563,"a":-7.7,"b":-14.3},{"f":3570,"a":-7.8,"b":-15.3},{"f":3578,"a":-7.8,"b":-14.6},{"f":3586,"a":-7.7,"b":-14},{"f":3594,"a":-7.8,"b":-15.3},{"f":3602,"a":-7.8,"b":-14.3},{"f":3609,"a":-7.8,"b":-14.9},{"f":3617,"a":-7.8,"b":-15.3},{"f":3625,"a":-7.8,"b":-14.1},{"f":3633,"a":-7.9,"b":-14.7},{"f":3641,"a":-7.8,"b":-15.3},{"f":3648,"a":-7.9,"b":-14.2},{"f":3656,"a":-7.8,"b":-14},{"f":3664,"a":-7.9,"b":-15.3},{"f":3672,"a":-7.9,"b":-14.4},{"f":3680,"a":-7.8,"b":-14},{"f":3688,"a":-7.9,"b":-15.3},{"f":3695,"a":-7.9,"b":-14.1},{"f":3703,"a":-7.8,"b":-14.7},{"f":3711,"a":-7.9,"b":-13.8},{"f":3719,"a":-7.9,"b":-15.3},{"f":3727,"a":-7.9,"b":-14.2},{"f":3734,"a":-7.9,"b":-13.8},{"f":3742,"a":-7.9,"b":-14.8},{"f":3750,"a":-7.9,"b":-13.6},{"f":3758,"a":-7.9,"b":-14.1},{"f":3766,"a":-7.9,"b":-13.3},{"f":3773,"a":-7.9,"b":-14},{"f":3781,"a":-7.3,"b":-13},{"f":3789,"a":-3.4,"b":-13.1},{"f":3797,"a":-7.9,"b":-13.4},{"f":3805,"a":-8,"b":-13.9},{"f":3813,"a":-8.1,"b":-15.3},{"f":3820,"a":-8.1,"b":-14.2},{"f":3828,"a":-8.2,"b":-14.7},{"f":3836,"a":-8.2,"b":-13.8},{"f":3844,"a":-8.3,"b":-15.3},{"f":3852,"a":-8.4,"b":-14.1},{"f":3859,"a":-8.5,"b":-14.6},{"f":3867,"a":-8.6,"b":-15.3},{"f":3875,"a":-8.6,"b":-14.2},{"f":3883,"a":-8.7,"b":-13.9},{"f":3891,"a":-8.8,"b":-15.3},{"f":3898,"a":-8.8,"b":-14.4},{"f":3906,"a":-8.9,"b":-15},{"f":3914,"a":-9,"b":-14.1},{"f":3922,"a":-9,"b":-15.3},{"f":3930,"a":-9.1,"b":-14.4},{"f":3938,"a":-9.2,"b":-15.3},{"f":3945,"a":-9.2,"b":-14.2},{"f":3953,"a":-9.3,"b":-14.8},{"f":3961,"a":-9.3,"b":-15.3},{"f":3969,"a":-9.3,"b":-14.2},{"f":3977,"a":-9.3,"b":-15.3},{"f":3984,"a":-9.3,"b":-14.5},{"f":3992,"a":-9.4,"b":-15.3},{"f":4000,"a":-9.4,"b":-15.3}],
"ci":[{"f":871,"a":-9.6,"b":-12.5,"m":-10},{"f":874,"a":-9.9,"b":-12.6,"m":-9.7},{"f":877,"a":-9.2,"b":-14.7,"m":-9.6},{"f":880,"a":-9.2,"b":-13.4,"m":-11},{"f":883,"a":-9.6,"b":-14.4,"m":-10.6},{"f":886,"a":-9.6,"b":-15.3,"m":-11.4},{"f":889,"a":-10,"b":-12.4,"m":-11},{"f":892,"a":-9.6,"b":-15.3,"m":-9.7},{"f":895,"a":-9.8,"b":-13.2,"m":-10.2},{"f":898,"a":-9.1,"b":-14.5,"m":-9.8},{"f":901,"a":-9.8,"b":-14.3,"m":-10.6},{"f":904,"a":-9.5,"b":-13.2,"m":-11.4},{"f":907,"a":-9.7,"b":-13.9,"m":-10.2},{"f":910,"a":-9.6,"b":-13.3,"m":-10.8},{"f":913,"a":-9.8,"b":-13.6,"m":-10},{"f":916,"a":-9.4,"b":-13.4,"m":-10.4},{"f":919,"a":-9.7,"b":-13.4,"m":-10.2},{"f":922,"a":-9.8,"b":-13.9,"m":-9.8},{"f":925,"a":-9.1,"b":-13.3,"m":-10.3},{"f":928,"a":-9.7,"b":-14.3,"m":-10.6},{"f":931,"a":-9.8,"b":-13.5,"m":-10.2},{"f":934,"a":-9.7,"b":-14.3,"m":-11},{"f":937,"a":-10.1,"b":-13,"m":-10},{"f":940,"a":-9.2,"b":-14.7,"m":-10.2},{"f":943,"a":-10.1,"b":-14.3,"m":-11},{"f":946,"a":-9.7,"b":-13,"m":-9.8},{"f":949,"a":-10,"b":-13.2,"m":-10.6},{"f":952,"a":-9,"b":-15.3,"m":-11.4},{"f":955,"a":-9.7,"b":-13.3,"m":-10.2},{"f":958,"a":-9.1,"b":-14.5,"m":-9.6},{"f":961,"a":-9.5,"b":-13.5,"m":-10.6},{"f":964,"a":-9.7,"b":-14.2,"m":-9.9},{"f":967,"a":-9.7,"b":-13.7,"m":-11},{"f":970,"a":-9,"b":-13.5,"m":-10},{"f":973,"a":-9.7,"b":-14,"m":-10.8},{"f":976,"a":-9.8,"b":-13.5,"m":-10},{"f":979,"a":-9,"b":-13.9,"m":-10.2},{"f":982,"a":-9.7,"b":-13.6,"m":-11},{"f":985,"a":-9.5,"b":-14.3,"m":-10.2},{"f":988,"a":-9.3,"b":-12.7,"m":-11.2},{"f":991,"a":-9.3,"b":-14.5,"m":-9.7},{"f":994,"a":-9,"b":-13.3,"m":-10},{"f":997,"a":-9.5,"b":-14.7,"m":-10},{"f":1000,"a":-9.5,"b":-15.3,"m":-9.8},{"f":1003,"a":-9.2,"b":-14.7,"m":-11},{"f":1006,"a":-9.2,"b":-13.8,"m":-9.5},{"f":1009,"a":-9.3,"b":-13.1,"m":-10.4},{"f":1012,"a":-8.9,"b":-12.7,"m":-9.9},{"f":1015,"a":-9.1,"b":-13.5,"m":-9.2},{"f":1018,"a":-8.7,"b":-11.5,"m":-9.8},{"f":1021,"a":-8.8,"b":-11.8,"m":-9},{"f":1024,"a":-8.5,"b":-11.2,"m":-9.4},{"f":1027,"a":-8.2,"b":-10.9,"m":-8.7},{"f":1030,"a":-6.7,"b":-10.5,"m":-6.7},{"f":1033,"a":-2.7,"b":-8.4,"m":-6.9},{"f":1036,"a":-3.2,"b":-10,"m":-7.3},{"f":1039,"a":-6.8,"b":-10.4,"m":-7.5},{"f":1042,"a":-7.4,"b":-11.3,"m":-8.2},{"f":1045,"a":-7.4,"b":-10.4,"m":-8},{"f":1048,"a":-8.4,"b":-12,"m":-8.8},{"f":1051,"a":-8.1,"b":-13.2,"m":-9.3},{"f":1054,"a":-9,"b":-12.2,"m":-9.8},{"f":1057,"a":-9.1,"b":-13.6,"m":-9.4},{"f":1060,"a":-9,"b":-12.5,"m":-10.2},{"f":1063,"a":-9.2,"b":-15.3,"m":-9.6},{"f":1066,"a":-9.3,"b":-13.3,"m":-9.8},{"f":1069,"a":-9.6,"b":-14.6,"m":-10.2},{"f":1072,"a":-9.2,"b":-12.9,"m":-10.3},{"f":1075,"a":-9.8,"b":-13.5,"m":-10.6},{"f":1078,"a":-9.2,"b":-13.5,"m":-9.8},{"f":1081,"a":-9.5,"b":-13.9,"m":-10.8},{"f":1084,"a":-9.4,"b":-13.3,"m":-10.2},{"f":1087,"a":-9.8,"b":-14.1,"m":-9.9},{"f":1090,"a":-9.2,"b":-13.2,"m":-10.6},{"f":1093,"a":-9.5,"b":-13.6,"m":-9.9},{"f":1096,"a":-9.6,"b":-13.7,"m":-11.2},{"f":1099,"a":-9.2,"b":-13.6,"m":-10.4},{"f":1102,"a":-9.6,"b":-13.9,"m":-9.8},{"f":1105,"a":-9.5,"b":-13.6,"m":-10},{"f":1108,"a":-9,"b":-14.2,"m":-10.4},{"f":1111,"a":-9.7,"b":-14,"m":-10.2},{"f":1114,"a":-9.6,"b":-13.8,"m":-9.9},{"f":1117,"a":-9.2,"b":-15,"m":-10.8},{"f":1120,"a":-9.8,"b":-15.3,"m":-11.4},{"f":1123,"a":-9.2,"b":-15.1,"m":-9.9},{"f":1126,"a":-9.5,"b":-13.4,"m":-10.4},{"f":1129,"a":-9.8,"b":-14,"m":-10},{"f":1132,"a":-9.2,"b":-15.3,"m":-11.4},{"f":1135,"a":-9.3,"b":-14.5,"m":-9.8},{"f":1138,"a":-9.7,"b":-14.4,"m":-10.8},{"f":1141,"a":-9.2,"b":-13.2,"m":-10},{"f":1144,"a":-9.9,"b":-13.6,"m":-11},{"f":1147,"a":-9.6,"b":-13.5,"m":-10.2},{"f":1150,"a":-9.1,"b":-13.9,"m":-11},{"f":1153,"a":-9.7,"b":-13.3,"m":-10.4},{"f":1156,"a":-9.4,"b":-13.7,"m":-9.8},{"f":1159,"a":-9.2,"b":-13.5,"m":-11},{"f":1162,"a":-9.9,"b":-13.9,"m":-9.9},{"f":1165,"a":-9.6,"b":-14.7,"m":-10.4},{"f":1168,"a":-9.1,"b":-13.5,"m":-9.7},{"f":1171,"a":-9.7,"b":-14.7,"m":-10.6},{"f":1174,"a":-9.8,"b":-13.9,"m":-10.2},{"f":1177,"a":-9.9,"b":-15,"m":-11},{"f":1180,"a":-9.1,"b":-15.3,"m":-10.4},{"f":1183,"a":-9.7,"b":-13.5,"m":-10.2},{"f":1186,"a":-9.9,"b":-15.3,"m":-10.8},{"f":1189,"a":-9.1,"b":-14.7,"m":-10},{"f":1192,"a":-9.4,"b":-13.6,"m":-10.6},{"f":1195,"a":-9.1,"b":-14.8,"m":-10},{"f":1198,"a":-9.6,"b":-12.5,"m":-9.8},{"f":1201,"a":-9.8,"b":-13,"m":-10.1},{"f":1202,"a":-10,"b":-12.5,"m":-10.3}],
"di":[{"f":871,"a":-9.6,"b":-14.4,"m":-9.9},{"f":874,"a":-9.4,"b":-11.8,"m":-9.7},{"f":877,"a":-8.6,"b":-14.7,"m":-9.2},{"f":880,"a":-9.4,"b":-13.2,"m":-10.8},{"f":883,"a":-9.6,"b":-15.3,"m":-11.4},{"f":886,"a":-9.8,"b":-13,"m":-10.6},{"f":889,"a":-9.8,"b":-13,"m":-11},{"f":892,"a":-8.9,"b":-14.7,"m":-9.8},{"f":895,"a":-9.8,"b":-13.3,"m":-10.5},{"f":898,"a":-9.2,"b":-13.3,"m":-10.9},{"f":901,"a":-9.8,"b":-14,"m":-10.2},{"f":904,"a":-9.6,"b":-13,"m":-10.6},{"f":907,"a":-9.7,"b":-13.7,"m":-10.5},{"f":910,"a":-9.6,"b":-13.5,"m":-10},{"f":913,"a":-9.9,"b":-13.7,"m":-10.6},{"f":916,"a":-9.4,"b":-13.6,"m":-10.2},{"f":919,"a":-9.8,"b":-13.5,"m":-10.4},{"f":922,"a":-9.6,"b":-13.9,"m":-9.9},{"f":925,"a":-9.4,"b":-13.5,"m":-10.4},{"f":928,"a":-9.7,"b":-14.4,"m":-10.6},{"f":931,"a":-9.7,"b":-13.4,"m":-10.2},{"f":934,"a":-9.8,"b":-14.4,"m":-10.8},{"f":937,"a":-9.4,"b":-13.2,"m":-10},{"f":940,"a":-9.9,"b":-14.5,"m":-10.4},{"f":943,"a":-9.8,"b":-15.3,"m":-10.2},{"f":946,"a":-9,"b":-13.1,"m":-9.8},{"f":949,"a":-9.9,"b":-13.2,"m":-10.6},{"f":952,"a":-8.8,"b":-14.4,"m":-9.6},{"f":955,"a":-9.7,"b":-13.5,"m":-10.1},{"f":958,"a":-9.9,"b":-14.7,"m":-9.9},{"f":961,"a":-9.6,"b":-13.5,"m":-10.2},{"f":964,"a":-9.9,"b":-14.4,"m":-10.6},{"f":967,"a":-9,"b":-13.5,"m":-9.8},{"f":970,"a":-9.6,"b":-14.3,"m":-10.8},{"f":973,"a":-9.7,"b":-13.7,"m":-10},{"f":976,"a":-9,"b":-13.5,"m":-10.2},{"f":979,"a":-9.7,"b":-13.6,"m":-10.9},{"f":982,"a":-9.5,"b":-13.8,"m":-9.9},{"f":985,"a":-9,"b":-13.6,"m":-10.4},{"f":988,"a":-9.4,"b":-14.4,"m":-10.2},{"f":991,"a":-9.4,"b":-12.7,"m":-11},{"f":994,"a":-8.8,"b":-14.7,"m":-9.4},{"f":997,"a":-9.4,"b":-13.2,"m":-9.8},{"f":1000,"a":-9.3,"b":-15.3,"m":-9.6},{"f":1003,"a":-9.1,"b":-14.5,"m":-10.8},{"f":1006,"a":-9.1,"b":-13.6,"m":-10},{"f":1009,"a":-9.5,"b":-13.1,"m":-9.4},{"f":1012,"a":-9,"b":-12.2,"m":-9.6},{"f":1015,"a":-8.8,"b":-13.5,"m":-9.4},{"f":1018,"a":-8.8,"b":-11.8,"m":-9.6},{"f":1021,"a":-8.6,"b":-11.5,"m":-8.9},{"f":1024,"a":-8.4,"b":-11,"m":-9},{"f":1027,"a":-8.1,"b":-10.8,"m":-8.8},{"f":1030,"a":-6.7,"b":-9.8,"m":-6.7},{"f":1033,"a":-2.6,"b":-8.5,"m":-6.8},{"f":1036,"a":-3,"b":-9.3,"m":-7.1},{"f":1039,"a":-6.9,"b":-9.8,"m":-7.4},{"f":1042,"a":-7.3,"b":-10.7,"m":-7.9},{"f":1045,"a":-7.7,"b":-10.8,"m":-8.3},{"f":1048,"a":-8.1,"b":-11.2,"m":-8.4},{"f":1051,"a":-8.3,"b":-10.3,"m":-9},{"f":1054,"a":-9.3,"b":-12.1,"m":-9.2},{"f":1057,"a":-9,"b":-13.2,"m":-9.3},{"f":1060,"a":-9,"b":-12.4,"m":-9.4},{"f":1063,"a":-8.8,"b":-15.3,"m":-9.5},{"f":1066,"a":-8.6,"b":-13.2,"m":-9.2},{"f":1069,"a":-8.8,"b":-14.5,"m":-9.8},{"f":1072,"a":-9.6,"b":-12.3,"m":-10.2},{"f":1075,"a":-8.4,"b":-13.1,"m":-9.9},{"f":1078,"a":-9.4,"b":-13.5,"m":-9.6},{"f":1081,"a":-8.6,"b":-13.2,"m":-10.4},{"f":1084,"a":-9.6,"b":-13.6,"m":-10},{"f":1087,"a":-8.6,"b":-13.3,"m":-10.2},{"f":1090,"a":-9.8,"b":-13.6,"m":-10.6},{"f":1093,"a":-9.5,"b":-14.2,"m":-9.7},{"f":1096,"a":-8.7,"b":-13.7,"m":-10.8},{"f":1099,"a":-9.8,"b":-14.5,"m":-10.2},{"f":1102,"a":-9.4,"b":-13.7,"m":-9.8},{"f":1105,"a":-8.5,"b":-13.2,"m":-10.3},{"f":1108,"a":-9.5,"b":-14.7,"m":-9.9},{"f":1111,"a":-8.9,"b":-15.3,"m":-9.7},{"f":1114,"a":-9.5,"b":-13.6,"m":-10.6},{"f":1117,"a":-8.5,"b":-14.4,"m":-9.6},{"f":1120,"a":-9.4,"b":-15,"m":-10.3},{"f":1123,"a":-8.4,"b":-14.5,"m":-9.4},{"f":1126,"a":-9.7,"b":-15,"m":-11.2},{"f":1129,"a":-9.6,"b":-13.5,"m":-10.4},{"f":1132,"a":-8.2,"b":-14.4,"m":-10},{"f":1135,"a":-9.4,"b":-13.6,"m":-10.2},{"f":1138,"a":-8.1,"b":-13.4,"m":-9.8},{"f":1141,"a":-9.6,"b":-13.8,"m":-10.9},{"f":1144,"a":-9.4,"b":-13.9,"m":-10.2},{"f":1147,"a":-8,"b":-13.7,"m":-9.9},{"f":1150,"a":-9.7,"b":-13.2,"m":-10.6},{"f":1153,"a":-9.4,"b":-13.9,"m":-10},{"f":1156,"a":-7.9,"b":-13.6,"m":-10},{"f":1159,"a":-9.5,"b":-15.3,"m":-11},{"f":1162,"a":-9.4,"b":-14.2,"m":-9.7},{"f":1165,"a":-7.9,"b":-14.3,"m":-10.6},{"f":1168,"a":-9.7,"b":-13.6,"m":-10.8},{"f":1171,"a":-9.6,"b":-15.3,"m":-10.2},{"f":1174,"a":-7.8,"b":-13.5,"m":-11},{"f":1177,"a":-9.7,"b":-13.7,"m":-10.1},{"f":1180,"a":-9.6,"b":-15.3,"m":-9.8},{"f":1183,"a":-7.6,"b":-14.5,"m":-10.4},{"f":1186,"a":-8.9,"b":-13.5,"m":-9.9},{"f":1189,"a":-8.9,"b":-12.8,"m":-10.6},{"f":1192,"a":-9.4,"b":-14.3,"m":-10},{"f":1195,"a":-7.2,"b":-14.6,"m":-9.9},{"f":1198,"a":-7.5,"b":-13,"m":-10.2},{"f":1201,"a":-9.2,"b":-12.4,"m":-10.6},{"f":1202,"a":-9.3,"b":-13.6,"m":-10}],
"capp":[{"f":1785,"y":-24.8,"t":"("},{"f":1907,"y":-24.8,"t":")"}],"capc":[{"f":1846,"y":-24.8,"t":"c"}],"capd":[{"f":1846,"y":-24.8,"t":"d"}]},"layer":[
{"data":{"name":"c"},"mark":{"type":"rule","color":"#0000ff","strokeWidth":1.6},"encoding":{"x":{"field":"f","type":"quantitative","scale":{"domain":[0,4000],"range":[224,2263],"nice":false,"zero":false},"axis":{"orient":"bottom","offset":-1617,"values":[0,500,1000,1500,2000,2500,3000,3500,4000],"format":"d","labelFontSize":72,"tickSize":-22,"labelPadding":39,"title":"Frequency (Hz)","titleFontSize":68,"titlePadding":15}},"y":{"field":"a","type":"quantitative","scale":{"domain":[-15,10],"range":[826,47.5],"nice":false,"zero":false},"axis":{"orient":"left","offset":-224,"values":[-15,-10,-5,0,5,10],"labelExpr":"''+datum.value","labelFontSize":72,"tickSize":-22,"labelPadding":36,"title":"Amplitude (dB)","titleFontSize":72,"titlePadding":28,"titleY":427}},"y2":{"field":"b"}}},
{"data":{"name":"capp"},"mark":{"type":"text","fontSize":80,"font":"Liberation Serif","color":"#000"},"encoding":{"text":{"field":"t"},"x":{"field":"f","type":"quantitative","scale":{"domain":[0,4000],"range":[224,2263],"nice":false,"zero":false},"axis":{"orient":"top","offset":-47.5,"values":[0,500,1000,1500,2000,2500,3000,3500,4000],"labels":false,"tickSize":-22,"title":null}},"y":{"field":"y","type":"quantitative","scale":{"domain":[-15,10],"range":[826,47.5],"nice":false,"zero":false},"axis":{"orient":"right","offset":-87,"values":[-15,-10,-5,0,5,10],"labels":false,"tickSize":-22,"title":null}}}},
{"data":{"name":"capc"},"mark":{"type":"text","fontSize":80,"fontWeight":"bold","font":"Liberation Serif","color":"#000"},"encoding":{"text":{"field":"t"},"x":{"field":"f","type":"quantitative","scale":{"domain":[0,4000],"range":[224,2263],"nice":false,"zero":false},"axis":null},"y":{"field":"y","type":"quantitative","scale":{"domain":[-15,10],"range":[826,47.5],"nice":false,"zero":false},"axis":null}}},
{"data":{"name":"d"},"mark":{"type":"rule","color":"#0000ff","strokeWidth":1.6},"encoding":{"x":{"field":"f","type":"quantitative","scale":{"domain":[0,4000],"range":[227.5,2263],"nice":false,"zero":false},"axis":{"orient":"bottom","offset":-382,"values":[0,500,1000,1500,2000,2500,3000,3500,4000],"format":"d","labelFontSize":72,"tickSize":-22,"labelPadding":39,"title":"Frequency (Hz)","titleFontSize":68,"titlePadding":15}},"y":{"field":"a","type":"quantitative","scale":{"domain":[-15,10],"range":[2061,1285],"nice":false,"zero":false},"axis":{"orient":"left","offset":-227.5,"values":[-15,-10,-5,0,5,10],"labelExpr":"''+datum.value","labelFontSize":72,"tickSize":-22,"labelPadding":36,"title":"Amplitude (dB)","titleFontSize":72,"titlePadding":28,"titleY":1663}},"y2":{"field":"b"}}},
{"data":{"name":"capp"},"mark":{"type":"text","fontSize":80,"font":"Liberation Serif","color":"#000"},"encoding":{"text":{"field":"t"},"x":{"field":"f","type":"quantitative","scale":{"domain":[0,4000],"range":[227.5,2263],"nice":false,"zero":false},"axis":{"orient":"top","offset":-1285,"values":[0,500,1000,1500,2000,2500,3000,3500,4000],"labels":false,"tickSize":-22,"title":null}},"y":{"field":"y","type":"quantitative","scale":{"domain":[-15,10],"range":[2061,1285],"nice":false,"zero":false},"axis":{"orient":"right","offset":-87,"values":[-15,-10,-5,0,5,10],"labels":false,"tickSize":-22,"title":null}}}},
{"data":{"name":"capd"},"mark":{"type":"text","fontSize":80,"fontWeight":"bold","font":"Liberation Serif","color":"#000"},"encoding":{"text":{"field":"t"},"x":{"field":"f","type":"quantitative","scale":{"domain":[0,4000],"range":[227.5,2263],"nice":false,"zero":false},"axis":null},"y":{"field":"y","type":"quantitative","scale":{"domain":[-15,10],"range":[2061,1285],"nice":false,"zero":false},"axis":null}}},
{"data":{"name":"ci"},"mark":{"type":"rule","color":"#0000ff","strokeWidth":1.3},"encoding":{"x":{"field":"f","type":"quantitative","scale":{"domain":[871,1202],"range":[1047,1519],"nice":false,"zero":false},"axis":{"orient":"bottom","offset":-2094,"values":[900,1000,1100,1200],"format":"d","labelFontSize":57,"tickSize":-5,"labelPadding":28,"title":null}},"y":{"field":"a","type":"quantitative","scale":{"domain":[-15,0],"range":[349,90],"nice":false,"zero":false},"axis":{"orient":"left","offset":-1047,"values":[-15,-10,-5,0],"labelExpr":"''+datum.value","labelFontSize":57,"tickSize":-5,"labelPadding":19,"title":null}},"y2":{"field":"b"}}},
{"data":{"name":"ci"},"mark":{"type":"line","color":"#0000ff","strokeWidth":1},"encoding":{"x":{"field":"f","type":"quantitative","scale":{"domain":[871,1202],"range":[1047,1519],"nice":false,"zero":false},"axis":{"orient":"top","offset":-90,"values":[900,1000,1100,1200],"labels":false,"tickSize":-5,"title":null}},"y":{"field":"m","type":"quantitative","scale":{"domain":[-15,0],"range":[349,90],"nice":false,"zero":false},"axis":{"orient":"right","offset":-831,"values":[-15,-10,-5,0],"labels":false,"tickSize":-5,"title":null}}}},
{"data":{"name":"di"},"mark":{"type":"rule","color":"#0000ff","strokeWidth":1.3},"encoding":{"x":{"field":"f","type":"quantitative","scale":{"domain":[871,1202],"range":[1048.5,1520.5],"nice":false,"zero":false},"axis":{"orient":"bottom","offset":-857,"values":[900,1000,1100,1200],"format":"d","labelFontSize":57,"tickSize":-5,"labelPadding":28,"title":null}},"y":{"field":"a","type":"quantitative","scale":{"domain":[-15,0],"range":[1586,1327],"nice":false,"zero":false},"axis":{"orient":"left","offset":-1048.5,"values":[-15,-10,-5,0],"labelExpr":"''+datum.value","labelFontSize":57,"tickSize":-5,"labelPadding":19,"title":null}},"y2":{"field":"b"}}},
{"data":{"name":"di"},"mark":{"type":"line","color":"#0000ff","strokeWidth":1},"encoding":{"x":{"field":"f","type":"quantitative","scale":{"domain":[871,1202],"range":[1048.5,1520.5],"nice":false,"zero":false},"axis":{"orient":"top","offset":-1327,"values":[900,1000,1100,1200],"labels":false,"tickSize":-5,"title":null}},"y":{"field":"m","type":"quantitative","scale":{"domain":[-15,0],"range":[1586,1327],"nice":false,"zero":false},"axis":{"orient":"right","offset":-829.5,"values":[-15,-10,-5,0],"labels":false,"tickSize":-5,"title":null}}}}
],"resolve":{"scale":{"x":"independent","y":"independent"},"axis":{"x":"independent","y":"independent"}}}
